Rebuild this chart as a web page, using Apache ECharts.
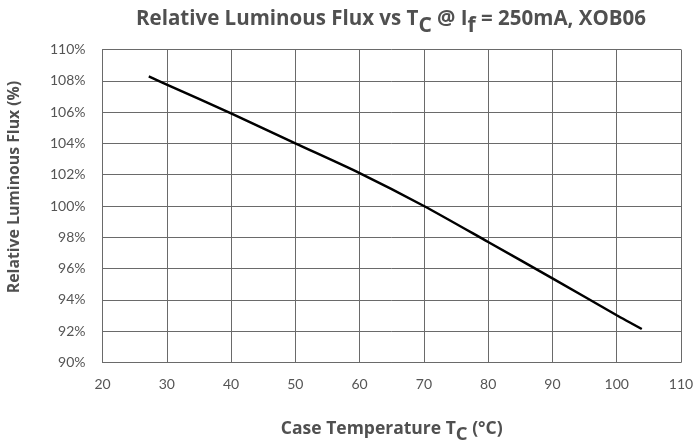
<!DOCTYPE html>
<html><head><meta charset="utf-8">
<script src="https://cdn.jsdelivr.net/npm/echarts@6/dist/echarts.min.js"></script>
<style>html,body{margin:0;padding:0;background:#fff}#c{width:694px;height:446px}</style>
</head><body><div id="c"></div>
<script>
const temps = [27.2, 30, 40, 50, 60, 70, 80, 90, 100, 103.9];
const flux  = [108.28, 107.76, 105.92, 104.0, 102.1, 100.0, 97.7, 95.38, 93.02, 92.14];
const xTicks = [20, 30, 40, 50, 60, 70, 80, 90, 100, 110];
const yTicks = [90, 92, 94, 96, 98, 100, 102, 104, 106, 108, 110];

const chart = echarts.init(document.getElementById('c'));
const FONT = 'Lato';
const TFONT = 'Open Sans';
const tColor = '#505050';
const gridColor = '#6a6a6a';
chart.setOption({
  animation: false,
  backgroundColor: '#fff',
  title: {
    left: 386, top: -3, textAlign: 'center',
    text: '{m|Relative Luminous Flux vs T}{s|C}{m| @ I}{s|f}{m| = 250mA, XOB06}',
    textStyle: {
      rich: {
        m: {fontFamily: TFONT, fontWeight: 'bold', fontSize: 20.5, color: tColor},
        s: {fontFamily: TFONT, fontWeight: 'bold', fontSize: 21, color: tColor, padding: [14, 0, 0, 0]}
      }
    }
  },
  grid: {left: 102.5, right: 13, top: 49.5, bottom: 83.5, outerBoundsMode: 'none', containLabel: false},
  xAxis: {
    type: 'value', min: xTicks[0], max: xTicks[xTicks.length - 1], interval: 10,
    axisLine: {show: true, lineStyle: {color: gridColor, width: 1}},
    axisTick: {show: false},
    splitLine: {show: true, lineStyle: {color: gridColor, width: 1}},
    axisLabel: {fontFamily: FONT, fontSize: 14, color: '#555', margin: 15},
    name: '{m|Case Temperature T}{s|C}{m| (°C)}',
    nameLocation: 'middle', nameGap: 51,
    nameTextStyle: {
      rich: {
        m: {fontFamily: TFONT, fontWeight: 'bold', fontSize: 17.5, color: tColor},
        s: {fontFamily: TFONT, fontWeight: 'bold', fontSize: 18.5, color: tColor, padding: [12, 0, 0, 0]}
      }
    }
  },
  yAxis: {
    type: 'value', min: yTicks[0], max: yTicks[yTicks.length - 1], interval: 2,
    axisLine: {show: true, lineStyle: {color: gridColor, width: 1}},
    axisTick: {show: false},
    splitLine: {show: true, lineStyle: {color: gridColor, width: 1}},
    axisLabel: {fontFamily: FONT, fontSize: 14, color: '#555', margin: 17, formatter: v => v + '%'},
    name: 'Relative Luminous Flux (%)',
    nameLocation: 'middle', nameGap: 80,
    nameTextStyle: {fontFamily: TFONT, fontWeight: 'bold', fontSize: 15.8, color: tColor, padding: [0, 0, 0, 38]}
  },
  series: [{
    type: 'line',
    data: temps.map((t, i) => [t, flux[i]]),
    showSymbol: false,
    smooth: 0.25,
    lineStyle: {color: '#000', width: 2.5}
  }]
});
</script></body></html>
